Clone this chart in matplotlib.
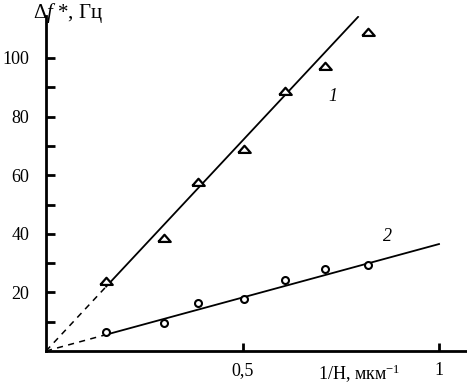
import matplotlib
matplotlib.use("Agg")
import matplotlib.pyplot as plt
import numpy as np

plt.rcParams["font.family"] = ["Liberation Serif", "DejaVu Serif"]
plt.rcParams["mathtext.fontset"] = "custom"
plt.rcParams["mathtext.rm"] = "Liberation Serif"
plt.rcParams["mathtext.it"] = "Liberation Serif:italic"

# measured points, 1/H in um^-1
inv_h = [0.153, 0.299, 0.386, 0.505, 0.607, 0.710, 0.820]
df_1 = [23.9, 38.6, 57.7, 68.9, 88.7, 97.4, 108.9]
df_2 = [6.5, 9.6, 16.4, 17.7, 24.2, 28.0, 29.4]

# fitted slopes (through origin) and line extents
slope_1 = 143.6
slope_2 = 36.5
fit_start = 0.153
fit_end_1 = 0.794
fit_end_2 = 1.0

x_ticks = [0.5, 1.0]
x_tick_labels = ["0,5", "1"]
y_major = [20, 40, 60, 80, 100]
y_minor = [10, 30, 50, 70, 90]

fig = plt.figure(figsize=(4.67, 3.84), dpi=100)
ax = fig.add_axes([46 / 467, 33 / 384, 421 / 467, 335 / 384])
ax.set_xlim(0, 421 / 393)
ax.set_ylim(0, 335 / 2.93)

# dashed extrapolation to origin, solid fit over data range
for slope, x_end in [(slope_1, fit_end_1), (slope_2, fit_end_2)]:
    xd = np.array([0.0, fit_start])
    ax.plot(xd, slope * xd, color="black", lw=1.1, ls=(0, (4, 3.5)))
    xs = np.array([fit_start, x_end])
    ax.plot(xs, slope * xs, color="black", lw=1.3)

tri = [(-1.0, -0.55), (1.0, -0.55), (0.0, 0.6), (-1.0, -0.55)]
ax.plot(inv_h, df_1, ls="none", marker=tri, ms=9, mfc="white", mec="black", mew=1.6)
ax.plot(inv_h, df_2, ls="none", marker="o", ms=5, mfc="white", mec="black", mew=1.5)

ax.text(0.73, 86.7, "1", fontsize=13, style="italic", ha="center", va="center")
ax.text(0.87, 39.0, "2", fontsize=13, style="italic", ha="center", va="center")

for side in ["top", "right"]:
    ax.spines[side].set_visible(False)
for side in ["left", "bottom"]:
    ax.spines[side].set_linewidth(2)

ax.set_xticks(x_ticks)
ax.set_xticklabels(x_tick_labels)
ax.set_yticks(y_major)
ax.set_yticks(y_minor, minor=True)
ax.tick_params(axis="both", which="both", direction="in", width=2, labelsize=13)
ax.tick_params(axis="y", which="both", length=6.5, pad=12)
ax.tick_params(axis="x", which="major", length=6, pad=8)

ax.set_xlabel("1/H, мкм$^{-1}$", fontsize=13)
ax.xaxis.set_label_coords(0.745, -0.068)
ax.xaxis.label.set_va("center")

fig.text(33 / 467, 1 - 13 / 384, r"$\Delta f$ *, Гц", fontsize=15, ha="left", va="center")

fig.savefig("out.png", dpi=100)
